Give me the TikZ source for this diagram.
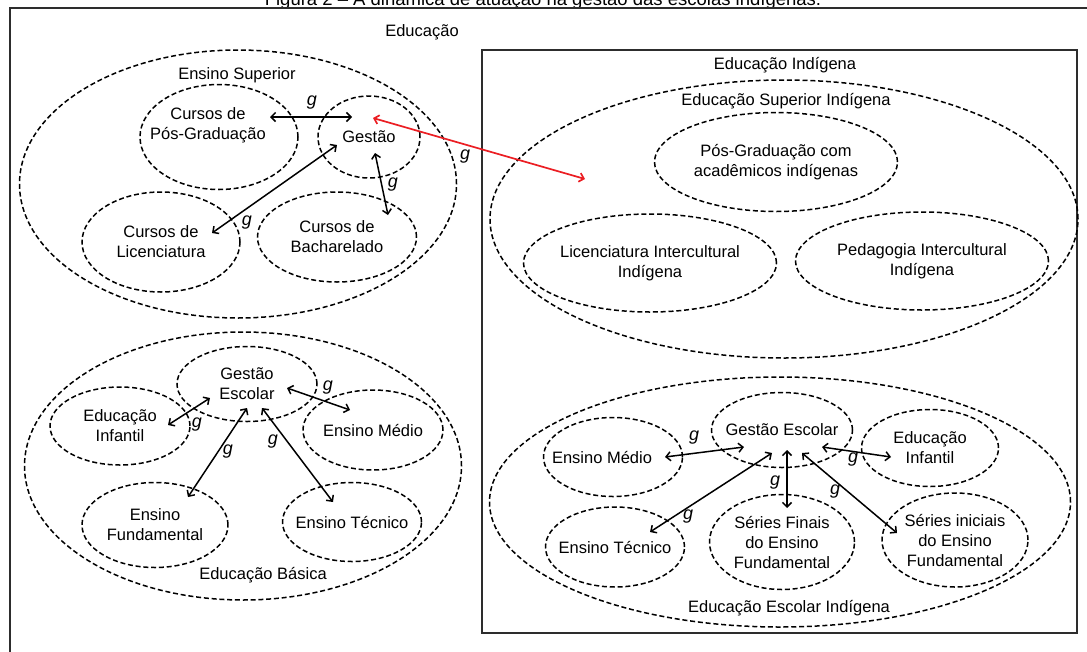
\documentclass[tikz,border=0pt]{standalone}
\usepackage{fontspec}
\setmainfont{Liberation Sans}
\usepackage{xcolor}
\usetikzlibrary{shapes.geometric,arrows.meta}
\definecolor{frame}{RGB}{45,45,45}
\definecolor{link}{RGB}{235,30,35}

\begin{document}
\begin{tikzpicture}[x=1pt,y=-1pt,
	txt/.style={font=\fontsize{16.5}{20}\selectfont,align=center,inner sep=0pt},
	ell/.style={ellipse,draw,line width=1.5pt,dash pattern=on 5pt off 2.8pt,txt,inner sep=-10pt},
	frm/.style={line width=2pt,color=frame},
	gl/.style={font=\fontsize{18}{20}\selectfont\itshape,inner sep=0pt},
	arr/.style={{Straight Barb[length=4.5pt,width=9pt]}-{Straight Barb[length=4.5pt,width=9pt]},line width=1.5pt}]
				\useasboundingbox (0,0) rectangle (1087,651);
				
				% title, cut by the page edge
				\node[txt,anchor=base,font=\fontsize{18.5}{20}\selectfont] (title) at (543,5) {Figura 2 – A dinâmica de atuação na gestão das escolas indígenas.};
				
				\draw[frm] (10,660) -- (10,8) -- (1100,8);
				\node[frm,draw,minimum width=595,minimum height=583] (ind) at (779.5,341.5) {};
				\node[txt] (edu) at (422,32) {Educação};
				\node[txt] (eduind) at (785,65) {Educação Indígena};
				
				% ensino superior
				\node[ell,minimum width=437,minimum height=268] (sup) at (238,184) {};
				\node[txt] (supL) at (237,75) {Ensino Superior};
				\node[ell,minimum width=158,minimum height=105] (pos) at (219,137) {};
				\node[txt] (posT) at (208,125) {Cursos de\\Pós-Graduação};
				\node[ell,minimum width=102,minimum height=82] (ges) at (369,137) {Gestão};
				\node[ell,minimum width=158,minimum height=100] (lic) at (161,242) {Cursos de\\Licenciatura};
				\node[ell,minimum width=159,minimum height=90] (bac) at (337,237) {Cursos de\\Bacharelado};
				
				% educacao basica
				\node[ell,minimum width=437,minimum height=268] (bas) at (243,466) {};
				\node[txt] (basL) at (263,575) {Educação Básica};
				\node[ell,minimum width=140,minimum height=75] (gesB) at (247,384) {Gestão\\Escolar};
				\node[ell,minimum width=140,minimum height=78] (infB) at (120,426) {Educação\\Infantil};
				\node[ell,minimum width=140,minimum height=80] (medB) at (373,430) {Ensino Médio};
				\node[ell,minimum width=146,minimum height=85] (funB) at (155,525) {Ensino\\Fundamental};
				\node[ell,minimum width=139,minimum height=79] (tecB) at (352,522) {Ensino Técnico};
				
				% educacao superior indigena
				\node[ell,minimum width=588,minimum height=278] (esi) at (784,219) {};
				\node[txt] (esiL) at (786,101) {Educação Superior Indígena};
				\node[ell,minimum width=243,minimum height=99] (posI) at (776,162) {Pós-Graduação com\\acadêmicos indígenas};
				\node[ell,minimum width=253,minimum height=98] (licI) at (650,263) {Licenciatura Intercultural\\Indígena};
				\node[ell,minimum width=253,minimum height=98] (pedI) at (922,261) {Pedagogia Intercultural\\Indígena};
				
				% educacao escolar indigena
				\node[ell,minimum width=581,minimum height=250] (eei) at (780,502) {};
				\node[txt] (eeiL) at (789,608) {Educação Escolar Indígena};
				\node[ell,minimum width=141,minimum height=75] (gesI) at (782,430) {Gestão Escolar};
				\node[ell,minimum width=139,minimum height=79] (medI) at (613,457) {};
				\node[txt] (medIT) at (602,457) {Ensino Médio};
				\node[ell,minimum width=137,minimum height=77] (infI) at (930,448) {Educação\\Infantil};
				\node[ell,minimum width=139,minimum height=80] (tecI) at (615,547) {Ensino Técnico};
				\node[ell,minimum width=145,minimum height=95] (finI) at (782,542) {Séries Finais\\do Ensino\\Fundamental};
				\node[ell,minimum width=146,minimum height=94] (iniI) at (955,540) {Séries iniciais\\do Ensino\\Fundamental};
				
				% links
				\draw[arr] ([shift={(51,-20)}]pos.center) -- ([shift={(-17,-20)}]ges.center);
				\draw[arr] ([shift={(-32,8)}]ges.center) -- ([shift={(51,-9)}]lic.center);
				\draw[arr] ([shift={(6,16)}]ges.center) -- ([shift={(51,-22)}]bac.center);
				\draw[arr,link,line width=1.7pt] ([shift={(4,-19)}]ges.center) -- ([shift={(-199,-40)}]esi.center);
				
				\draw[arr] ([shift={(-37,14)}]gesB.center) -- ([shift={(48,-1)}]infB.center);
				\draw[arr] ([shift={(40,4)}]gesB.center) -- ([shift={(-23,-20)}]medB.center);
				\draw[arr] ([shift={(0,24)}]gesB.center) -- ([shift={(33,-28)}]funB.center);
				\draw[arr] ([shift={(15,24)}]gesB.center) -- ([shift={(-19,-20)}]tecB.center);
				
				\draw[arr] ([shift={(-38,17)}]gesI.center) -- ([shift={(52,0)}]medI.center);
				\draw[arr] ([shift={(40,17)}]gesI.center) -- ([shift={(-39,9)}]infI.center);
				\draw[arr] ([shift={(-10,23)}]gesI.center) -- ([shift={(35,-15)}]tecI.center);
				\draw[arr] ([shift={(5,20)}]gesI.center) -- ([shift={(5,-34)}]finI.center);
				\draw[arr] ([shift={(20,23)}]gesI.center) -- ([shift={(-58,-7)}]iniI.center);
				
				% g labels
				\node[gl] (g1) at (312,103) {g};
				\node[gl] (g2) at (247,223) {g};
				\node[gl] (g3) at (393,185) {g};
				\node[gl] (g4) at (465,157) {g};
				\node[gl] (g5) at (197,425) {g};
				\node[gl] (g6) at (328,388) {g};
				\node[gl] (g7) at (228,452) {g};
				\node[gl] (g8) at (273,442) {g};
				\node[gl] (g9) at (694,438) {g};
				\node[gl] (g10) at (853,460) {g};
				\node[gl] (g11) at (688,517) {g};
				\node[gl] (g12) at (775,483) {g};
				\node[gl] (g13) at (835,492) {g};
\end{tikzpicture}
\end{document}
